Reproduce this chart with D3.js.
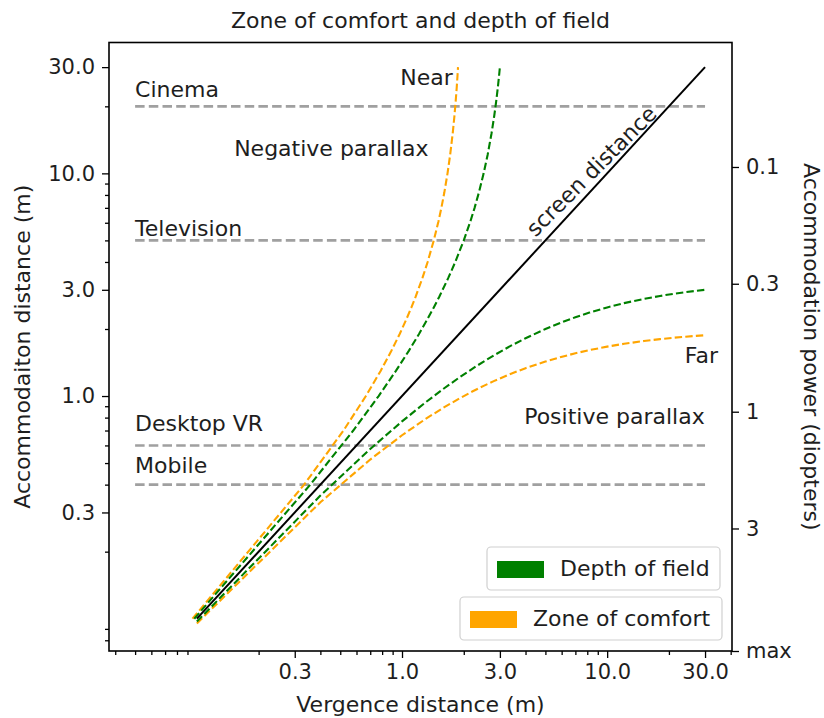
<!DOCTYPE html>
<html><head><meta charset="utf-8">
<script src="https://cdn.jsdelivr.net/npm/d3@7"></script>
<style>body{margin:0;background:#fff}svg{display:block}text{font-family:"DejaVu Sans",sans-serif;fill:#1e1e1e}</style>
</head><body><svg id="c" width="824" height="718"></svg>
<script>
// ---- data ----
const xTickValues = [0.3, 1, 3, 10, 30];
const xTickLabels = ["0.3", "1.0", "3.0", "10.0", "30.0"];
const yTickValues = [0.3, 1, 3, 10, 30];
const yTickLabels = ["0.3", "1.0", "3.0", "10.0", "30.0"];
const dioptreTickValues = [0.1, 0.3, 1, 3, 9.5];
const dioptreTickLabels = ["0.1", "0.3", "1", "3", "max"];

const venues = ["Cinema", "Television", "Desktop VR", "Mobile"];
const venueDistance = [20, 5, 0.6, 0.4];
const venueLabelY = [22, 5.23, 0.70, 0.45];
const venueLineX = [0.05, 30];

const screenX = [0.1, 30];
const screenY = [0.1, 30];

// vergence (or accommodation) sample distances
const sampleDist = [0.1, 0.4, 0.7, 1.0, 1.3, 1.6, 1.9, 2.2, 2.5, 2.8, 3.4, 4.0, 5.0, 6.1, 7.0, 8.2, 10.0, 12.1, 15.1, 18.1, 21.1, 24.1, 27.1, 30.0];
// matching limit distances (depth of field, zone of comfort)
const dofLimit = [0.0971, 0.3571, 0.5785, 0.7692, 0.9353, 1.0811, 1.2102, 1.3253, 1.4286, 1.5217, 1.6832, 1.8182, 2.0, 2.1555, 2.2581, 2.3699, 2.5, 2.6134, 2.7306, 2.8149, 2.8786, 2.9283, 2.9682, 3.0];
const comfortLimit = [0.0952, 0.3333, 0.5185, 0.6667, 0.7879, 0.8889, 0.9744, 1.0476, 1.1111, 1.1667, 1.2593, 1.3333, 1.4286, 1.5062, 1.5556, 1.6078, 1.6667, 1.7163, 1.7661, 1.8010, 1.8268, 1.8467, 1.8625, 1.875];

const annotations = [
  {text: "Near", x: 1.77, y: 24.9, anchor: "end"},
  {text: "Negative parallax", x: 0.152, y: 11.96, anchor: "start"},
  {text: "Far", x: 23.9, y: 1.406, anchor: "start"},
  {text: "Positive parallax", x: 3.94, y: 0.749, anchor: "start"}
];
const legendItems = ["Depth of field", "Zone of comfort"];
const legendColors = ["#008000", "#ffa500"];

// ---- layout ----
const L = 109, R = 732, T = 42.5, B = 651;
const svg = d3.select("#c");
const x = d3.scaleLog().domain([0.0373, 40.6]).range([L, R]);
const y = d3.scaleLog().domain([0.0716, 38.7]).range([B, T]);
const yD = d3.scaleLog().domain([0.031, 9.5]).range([T, B]);

function minorTicks(dom) {
  const out = [];
  for (let k = -3; k <= 3; k++) for (let m = 2; m <= 9; m++) {
    const v = m * Math.pow(10, k);
    if (v >= dom[0] && v <= dom[1] && m !== 3) out.push(v);
  }
  return out;
}
const fsTick = 21, fs = 22;

// venue lines
const g = svg.append("g");
venues.forEach((v, i) => {
  g.append("line").attr("x1", x(venueLineX[0])).attr("x2", x(venueLineX[1]))
    .attr("y1", y(venueDistance[i])).attr("y2", y(venueDistance[i]))
    .attr("stroke", "#a0a0a0").attr("stroke-width", 2.6).attr("stroke-dasharray", "9.5,4.2");
  g.append("text").attr("x", x(venueLineX[0])).attr("y", y(venueLabelY[i]))
    .attr("font-size", fs).text(v);
});

const line = d3.line().x(d => x(d[0])).y(d => y(d[1]));
const dash = "7.4,3.2";
const curves = [
  {pts: sampleDist.map((s, i) => [comfortLimit[i], s]), c: "#ffa500"},
  {pts: sampleDist.map((s, i) => [s, comfortLimit[i]]), c: "#ffa500"},
  {pts: sampleDist.map((s, i) => [dofLimit[i], s]), c: "#008000"},
  {pts: sampleDist.map((s, i) => [s, dofLimit[i]]), c: "#008000"}
];
curves.forEach(cv => g.append("path").attr("d", line(cv.pts)).attr("fill", "none")
  .attr("stroke", cv.c).attr("stroke-width", 2.1).attr("stroke-dasharray", dash));
g.append("path").attr("d", line(screenX.map((v, i) => [v, screenY[i]])))
  .attr("fill", "none").attr("stroke", "#000").attr("stroke-width", 2);

// annotations
annotations.forEach(a => g.append("text").attr("x", x(a.x)).attr("y", y(a.y))
  .attr("text-anchor", a.anchor).attr("font-size", fs).text(a.text));
{
  const px = x(9.2), py = y(9.2);
  g.append("text").attr("transform", `translate(${px - 3},${py - 5}) rotate(-45)`)
    .attr("text-anchor", "middle").attr("font-size", fs).text("screen distance");
}

// frame
svg.append("rect").attr("x", L).attr("y", T).attr("width", R - L).attr("height", B - T)
  .attr("fill", "none").attr("stroke", "#000").attr("stroke-width", 1.6);

// x axis
const xa = svg.append("g").attr("transform", `translate(0,${B})`);
xa.call(d3.axisBottom(x).tickValues(xTickValues).tickFormat((d, i) => xTickLabels[i]).tickSize(7).tickPadding(6));
const xm = svg.append("g").attr("transform", `translate(0,${B})`);
xm.call(d3.axisBottom(x).tickValues(minorTicks(x.domain())).tickFormat("").tickSize(4));
// y axis
const ya = svg.append("g").attr("transform", `translate(${L},0)`);
ya.call(d3.axisLeft(y).tickValues(yTickValues).tickFormat((d, i) => yTickLabels[i]).tickSize(7).tickPadding(7));
const ym = svg.append("g").attr("transform", `translate(${L},0)`);
ym.call(d3.axisLeft(y).tickValues(minorTicks(y.domain())).tickFormat("").tickSize(4));
// right axis
const ra = svg.append("g").attr("transform", `translate(${R},0)`);
ra.call(d3.axisRight(yD).tickValues(dioptreTickValues).tickFormat((d, i) => dioptreTickLabels[i]).tickSize(7).tickPadding(7));
svg.selectAll(".domain").remove();
svg.selectAll(".tick line").attr("stroke", "#000").attr("stroke-width", 1.3);
svg.selectAll(".tick text").attr("font-size", fsTick).attr("font-family", "DejaVu Sans").attr("fill", "#1e1e1e");

// labels
svg.append("text").attr("x", (L + R) / 2).attr("y", 28).attr("text-anchor", "middle").attr("font-size", fs).text("Zone of comfort and depth of field");
svg.append("text").attr("x", (L + R) / 2).attr("y", 712).attr("text-anchor", "middle").attr("font-size", fs).text("Vergence distance (m)");
svg.append("text").attr("transform", `translate(30,${(T + B) / 2}) rotate(-90)`).attr("text-anchor", "middle").attr("font-size", fs).text("Accommodaiton distance (m)");
svg.append("text").attr("transform", `translate(804,${(T + B) / 2}) rotate(90)`).attr("text-anchor", "middle").attr("font-size", fs).text("Accommodation power (diopters)");

// legends (two separate boxes)
const boxes = [{x0: 487, x1: 720, y0: 547}, {x0: 460, x1: 722, y0: 597}];
legendItems.forEach((t, i) => {
  const bx = boxes[i].x0, by = boxes[i].y0, bw = boxes[i].x1 - boxes[i].x0;
  svg.append("rect").attr("x", bx).attr("y", by).attr("width", bw).attr("height", 43)
    .attr("rx", 4).attr("fill", "rgba(255,255,255,0.8)").attr("stroke", "#d0d0d0").attr("stroke-width", 1.2);
  svg.append("rect").attr("x", bx + 10).attr("y", by + 14).attr("width", 47).attr("height", 17).attr("fill", legendColors[i]);
  svg.append("text").attr("x", bx + 73).attr("y", by + 29).attr("font-size", fs).text(t);
});
</script></body></html>
